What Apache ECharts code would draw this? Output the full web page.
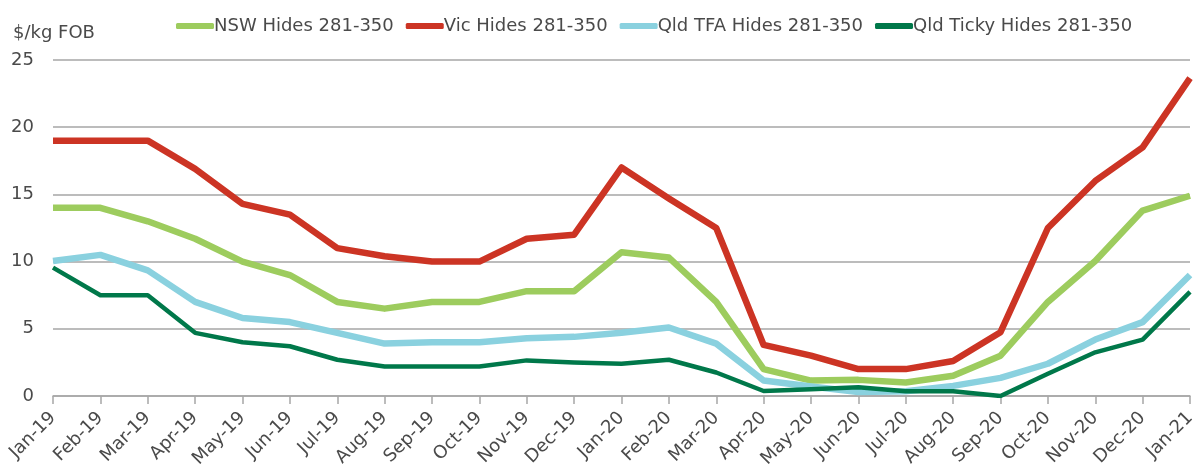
<!DOCTYPE html>
<html>
<head>
<meta charset="utf-8">
<script src="https://cdn.jsdelivr.net/npm/echarts@6/dist/echarts.min.js"></script>
<style>
  html, body { margin: 0; padding: 0; background: #fff; }
  #chart { width: 1196px; height: 468px; }
</style>
</head>
<body>
<div id="chart"></div>
<script>
// 月份
const months = [
  'Jan-19', 'Feb-19', 'Mar-19', 'Apr-19', 'May-19', 'Jun-19', 'Jul-19', 'Aug-19',
  'Sep-19', 'Oct-19', 'Nov-19', 'Dec-19', 'Jan-20', 'Feb-20', 'Mar-20', 'Apr-20',
  'May-20', 'Jun-20', 'Jul-20', 'Aug-20', 'Sep-20', 'Oct-20', 'Nov-20', 'Dec-20', 'Jan-21',
]

const nswHides = [14, 14, 13, 11.7, 10, 9, 7, 6.5, 7, 7, 7.8, 7.8, 10.7, 10.3, 7, 2,
  1.15, 1.2, 1, 1.5, 3, 7, 10.05, 13.8, 14.9]
const vicHides = [19, 19, 19, 16.9, 14.3, 13.5, 11, 10.4, 10, 10, 11.7, 12, 17, 14.7, 12.5, 3.8,
  3, 2, 2, 2.6, 4.75, 12.5, 16, 18.5, 23.65]
const qldTfaHides = [10.05, 10.5, 9.35, 7, 5.8, 5.5, 4.7, 3.9, 4, 4, 4.3, 4.4, 4.7, 5.1, 3.9, 1.15,
  0.7, 0.3, 0.35, 0.75, 1.35, 2.4, 4.2, 5.5, 9]
const qldTickyHides = [9.55, 7.5, 7.5, 4.7, 4, 3.7, 2.7, 2.2, 2.2, 2.2, 2.65, 2.5, 2.4, 2.7, 1.75, 0.37,
  0.5, 0.65, 0.35, 0.35, 0, 1.65, 3.25, 4.2, 7.75]

const yTicks = { min: 0, max: 25, interval: 5 }

const textColor = '#4a4a4a'
const gridColor = '#a6a6a6'
const font = 'DejaVu Sans'

const series = [
  { name: 'NSW Hides 281-350', data: nswHides, color: '#9dcc5e', width: 6.5 },
  { name: 'Vic Hides 281-350', data: vicHides, color: '#cc3424', width: 6.5 },
  { name: 'Qld TFA Hides 281-350', data: qldTfaHides, color: '#8ad1df', width: 6.5 },
  { name: 'Qld Ticky Hides 281-350', data: qldTickyHides, color: '#00784a', width: 4.5 },
]

const chart = echarts.init(document.getElementById('chart'), null, { renderer: 'canvas' })

const option = {
  animation: false,
  backgroundColor: '#fff',
  textStyle: { fontFamily: font, color: textColor },
  title: {
    text: '$/kg FOB',
    left: 8,
    top: 19,
    textStyle: { fontFamily: font, fontSize: 18, fontWeight: 'normal', color: textColor },
  },
  legend: {
    top: 12,
    left: 171,
    itemGap: 12,
    itemWidth: 38,
    itemHeight: 6,
    icon: 'roundRect',
    textStyle: { fontFamily: font, fontSize: 18, color: textColor, padding: [0, 0, 0, -5] },
    data: series.map(s => s.name),
  },
  grid: { left: 53, right: 6, top: 60, bottom: 72, outerBoundsMode: 'none' },
  xAxis: {
    type: 'category',
    data: months,
    boundaryGap: false,
    axisLine: { lineStyle: { color: gridColor, width: 1.5 } },
    axisTick: { alignWithLabel: true, length: 8, lineStyle: { color: gridColor, width: 1.5 } },
    axisLabel: {
      rotate: 45,
      interval: 0,
      margin: 19,
      fontFamily: font,
      fontSize: 18,
      color: textColor,
    },
  },
  yAxis: {
    type: 'value',
    ...yTicks,
    axisLine: { show: false },
    axisTick: { show: false },
    splitLine: { lineStyle: { color: gridColor, width: 1.5 } },
    axisLabel: { margin: 19, fontFamily: font, fontSize: 18, color: textColor },
  },
  series: series.map(s => ({
    name: s.name,
    type: 'line',
    data: s.data,
    showSymbol: false,
    symbol: 'none',
    color: s.color,
    lineStyle: { color: s.color, width: s.width, join: 'round' },
  })),
}

chart.setOption(option, true)
</script>
</body>
</html>
